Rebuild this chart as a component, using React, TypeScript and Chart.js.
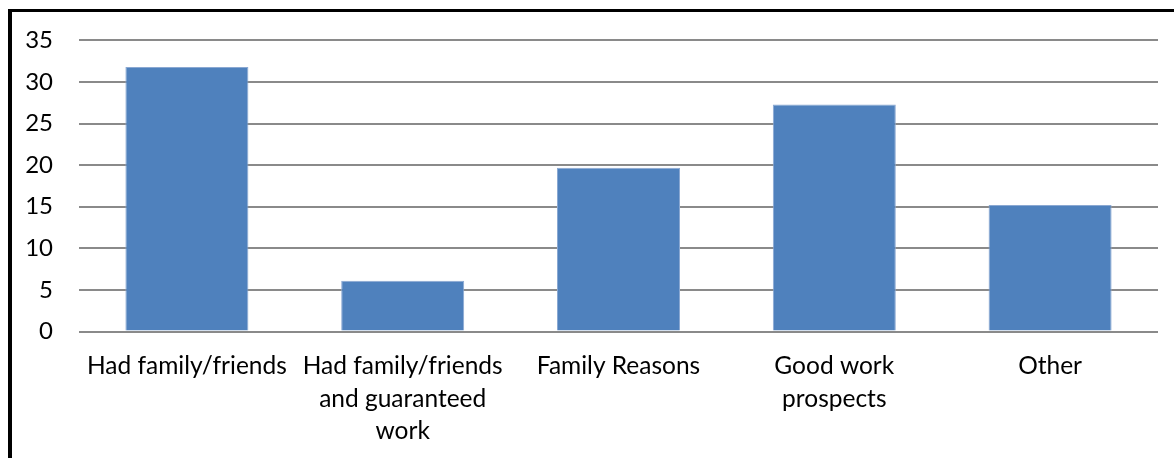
import React, { useEffect, useRef } from "react";
import { Chart, registerables } from "chart.js";

Chart.register(...registerables);

const categories: (string | string[])[] = [
  "Had family/friends",
  ["Had family/friends", "and guaranteed", "work"],
  "Family Reasons",
  ["Good work", "prospects"],
  "Other",
];
const values: number[] = [31.8, 6.1, 19.7, 27.3, 15.2];
const yTicks: number[] = [0, 5, 10, 15, 20, 25, 30, 35];

const FONT = "Lato, 'Open Sans', sans-serif";

export default function App() {
  const ref = useRef<HTMLCanvasElement | null>(null);

  useEffect(() => {
    if (!ref.current) return;
    const chart = new Chart(ref.current, {
      type: "bar",
      data: {
        labels: categories,
        datasets: [
          {
            data: values,
            backgroundColor: "#4F81BD",
            borderColor: "#8aa8d2",
            borderWidth: 1,
            categoryPercentage: 1,
            barPercentage: 0.57,
          },
        ],
      },
      options: {
        animation: false,
        responsive: false,
        maintainAspectRatio: false,
        layout: { padding: { top: 38.5, right: 16, left: 0, bottom: 0 } },
        plugins: { legend: { display: false }, tooltip: { enabled: false } },
        scales: {
          x: {
            grid: { display: false, drawTicks: false },
            border: { display: false },
            ticks: {
              color: "#000",
              font: { family: FONT, size: 24.5, lineHeight: 1.31 },
              padding: 19,
              maxRotation: 0,
              autoSkip: false,
            },
            afterFit: (s: any) => {
              s.height = 126.5;
            },
          },
          y: {
            min: yTicks[0],
            max: yTicks[yTicks.length - 1],
            afterBuildTicks: (s: any) => {
              s.ticks = yTicks.map((v) => ({ value: v }));
            },
            grid: { color: "#8a8a8a", lineWidth: 2, drawTicks: false },
            border: { display: false },
            ticks: {
              color: "#000",
              font: { family: FONT, size: 24 },
              padding: 26,
            },
            afterFit: (s: any) => {
              s.width = 79;
            },
          },
        },
      },
    });
    return () => chart.destroy();
  }, []);

  return (
    <div style={{ position: "absolute", left: 0, top: 0, width: 1174, height: 458, background: "#fff" }}>
      <canvas ref={ref} width={1174} height={458} style={{ position: "absolute", left: 0, top: 0 }} />
      <div
        style={{
          position: "absolute",
          left: 8,
          top: 9,
          width: 1174 - 8,
          height: 458 - 9,
          borderTop: "3px solid #000",
          borderLeft: "4px solid #000",
          boxSizing: "border-box",
          pointerEvents: "none",
        }}
      />
    </div>
  );
}
